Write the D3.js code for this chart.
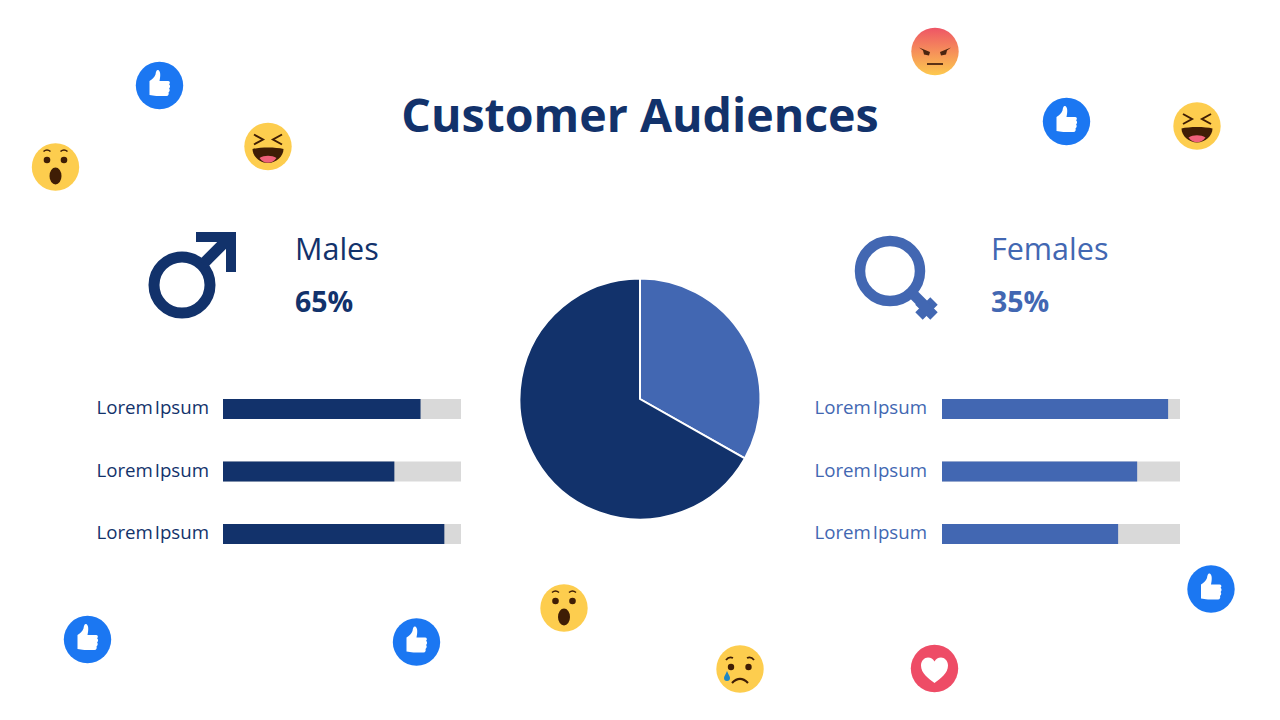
<!DOCTYPE html>
<html><head><meta charset="utf-8">
<script src="https://cdn.jsdelivr.net/npm/d3@7"></script>
<style>html,body{margin:0;background:#fff;width:1280px;height:720px;overflow:hidden}svg{display:block}text{font-family:"Open Sans",sans-serif}</style>
</head><body><svg id="c" width="1280" height="720"></svg>
<script>
const title = "Customer Audiences";
const groups = ["Males", "Females"];
const groupShares = ["65%", "35%"];
const barLabels = ["Lorem Ipsum", "Lorem Ipsum", "Lorem Ipsum"];
const maleValues = [83, 72, 93];
const femaleValues = [95, 82, 74];
const pieValues = [33.2, 66.8];
const NAVY = "#12326b", BLUE = "#4267b2", GREY = "#d9d9d9";

const svg = d3.select("#c");
const defs = svg.append("defs");
const grad = defs.append("linearGradient").attr("id","angry").attr("x1",0).attr("x2",0).attr("y1",0).attr("y2",1);
grad.append("stop").attr("offset","0%").attr("stop-color","#ee5566");
grad.append("stop").attr("offset","100%").attr("stop-color","#fdc94e");

svg.append("text").attr("x",640).attr("y",132).attr("text-anchor","middle")
  .attr("font-size",46.5).attr("font-weight",700).attr("fill",NAVY).text(title);

// Pie
const pieG = svg.append("g").attr("transform","translate(640,399)");
const pie = d3.pie().sort(null);
const arc = d3.arc().innerRadius(0).outerRadius(120.5);
pieG.selectAll("path").data(pie(pieValues)).join("path")
  .attr("d",arc).attr("fill",(d,i)=>[BLUE,NAVY][i]).attr("stroke","#fff").attr("stroke-width",2);

// Bars
const barY = d3.scalePoint().domain(d3.range(barLabels.length)).range([399,524]);
function bars(x0, values, color, labelX){
  const x = d3.scaleLinear().domain([0,100]).range([x0,x0+238]);
  const g = svg.append("g");
  values.forEach((v,i)=>{
    g.append("rect").attr("x",x(0)).attr("y",barY(i)).attr("width",x(100)-x(0)).attr("height",20).attr("fill",GREY);
    g.append("rect").attr("x",x(0)).attr("y",barY(i)).attr("width",x(v)-x(0)).attr("height",20).attr("fill",color);
    g.append("text").attr("x",labelX).attr("y",barY(i)+15).attr("text-anchor","end")
      .attr("font-size",18.7).attr("fill",color).attr("word-spacing",-3).text(barLabels[i]);
  });
}
bars(223, maleValues, NAVY, 209);
bars(942, femaleValues, BLUE, 927);

// Headers
[[295,NAVY],[991,BLUE]].forEach(([x,c],i)=>{
  svg.append("text").attr("x",x).attr("y",260).attr("font-size",30.5).attr("fill",c).text(groups[i]);
  svg.append("text").attr("x",x).attr("y",312).attr("font-size",28.5).attr("font-weight",700).attr("fill",c).text(groupShares[i]);
});

// Gender symbols
const male = svg.append("g").attr("fill","none").attr("stroke",NAVY);
male.append("circle").attr("cx",182).attr("cy",285).attr("r",28).attr("stroke-width",11);
male.append("path").attr("d","M203 264L231 236").attr("stroke-width",11);
male.append("path").attr("d","M196 232H236V272H226V242H196Z").attr("fill",NAVY).attr("stroke","none");
const female = svg.append("g").attr("fill","none").attr("stroke",BLUE);
female.append("circle").attr("cx",890).attr("cy",271).attr("r",30).attr("stroke-width",10.5);
female.append("path").attr("d","M912 293L927 308").attr("stroke-width",10.5);
female.append("path").attr("d","M919 316L934 301").attr("stroke-width",10.5);
female.append("path").attr("d","M919 301L934 316").attr("stroke-width",10.5);

// Reaction icons
const likeSpots = [[159.5,85.5],[1066.5,121.5],[1211,589],[87.5,639.5],[416.5,642]];
const hahaSpots = [[268,146.5],[1197,126]];
const wowSpots = [[55.5,167],[564,608]];
const angrySpots = [[935,51.5]];
const sadSpots = [[740,669]];
const loveSpots = [[934.5,668.5]];
const R = 23.7, Y = "#fdcd4e", D = "#3f1d05";
function icon(p){return svg.append("g").attr("transform",`translate(${p[0]},${p[1]})`);}
likeSpots.forEach(p=>{
  const g = icon(p);
  g.append("circle").attr("r",R).attr("fill","#1b77f2");
  g.append("path").attr("fill","#fff").attr("d","M-10 -4.5 C-7.5 -6 -5 -8 -4 -11 C-3.6 -14 -2.6 -16.5 -0.6 -15 C1.2 -13.5 1 -9 0 -4.5 L8.5 -4.5 C10.5 -4.5 11 -2.5 9.6 -1.2 C11 0 10.8 2 9.6 3 C10.6 4.2 10.4 6 9 7 C9.6 8.6 9 10.5 7 10.5 L-3 10.5 C-6 10.5 -7.5 9.5 -10 9.5 Z");
});
function eyesWow(g){
  g.append("circle").attr("cx",-8.5).attr("cy",-7).attr("r",3.3).attr("fill",D);
  g.append("circle").attr("cx",8.5).attr("cy",-7).attr("r",3.3).attr("fill",D);
  g.append("path").attr("d","M-12 -15.5Q-8.5 -18.5 -5 -15.5M5 -15.5Q8.5 -18.5 12 -15.5").attr("fill","none").attr("stroke",D).attr("stroke-width",1.6);
}
wowSpots.forEach(p=>{
  const g = icon(p);
  g.append("circle").attr("r",R).attr("fill",Y);
  eyesWow(g);
  g.append("ellipse").attr("cx",0).attr("cy",9).attr("rx",6).attr("ry",8.5).attr("fill",D);
});
hahaSpots.forEach(p=>{
  const g = icon(p);
  g.append("circle").attr("r",R).attr("fill",Y);
  g.append("path").attr("d","M-14 -12L-5 -7L-14 -2M14 -12L5 -7L14 -2").attr("fill","none").attr("stroke",D).attr("stroke-width",2);
  g.append("path").attr("d","M-15.5 2.5C-8 0.5 8 0.5 15.5 2.5C15.5 10 8 16.5 0 16.5C-8 16.5 -15.5 10 -15.5 2.5Z").attr("fill",D);
  g.append("path").attr("d","M-8.5 11.5C-4 8.5 4 8.5 8.5 11.5C6 15 3 16.2 0 16.2C-3 16.2 -6 15 -8.5 11.5Z").attr("fill","#f0617a");
});
angrySpots.forEach(p=>{
  const g = icon(p);
  g.append("circle").attr("r",R).attr("fill","url(#angry)");
  g.append("path").attr("d","M-16 -4L-5 0.5L-6 4L-11 3L-12 -1ZM16 -4L5 0.5L6 4L11 3L12 -1Z").attr("fill","#4a2410");
  g.append("path").attr("d","M-8 12.5H8").attr("stroke","#4a2410").attr("stroke-width",1.8);
});
sadSpots.forEach(p=>{
  const g = icon(p);
  g.append("circle").attr("r",R).attr("fill",Y);
  g.append("circle").attr("cx",-9).attr("cy",-2).attr("r",3.2).attr("fill",D);
  g.append("circle").attr("cx",8.5).attr("cy",-2).attr("r",3.2).attr("fill",D);
  g.append("path").attr("d","M-14 -9Q-11 -13 -7 -11M7 -11Q11 -13 14 -9").attr("fill","none").attr("stroke",D).attr("stroke-width",1.8);
  g.append("path").attr("d","M-8 14Q0 6 8 14").attr("fill","none").attr("stroke",D).attr("stroke-width",2.2);
  g.append("path").attr("d","M-13 2C-14 5 -16 7 -16 9A3 3 0 0 0 -10 9C-10 7 -12 5 -13 2Z").attr("fill","#1d86c4");
});
loveSpots.forEach(p=>{
  const g = icon(p);
  g.append("circle").attr("r",R).attr("fill","#ee4c66");
  g.append("path").attr("fill","#fff").attr("d","M0 14.5C-6 10 -13.5 5 -13.5 -3C-13.5 -8 -10 -11 -6.5 -11C-3.5 -11 -1.5 -9.5 0 -7C1.5 -9.5 3.5 -11 6.5 -11C10 -11 13.5 -8 13.5 -3C13.5 5 6 10 0 14.5Z");
});
</script></body></html>
